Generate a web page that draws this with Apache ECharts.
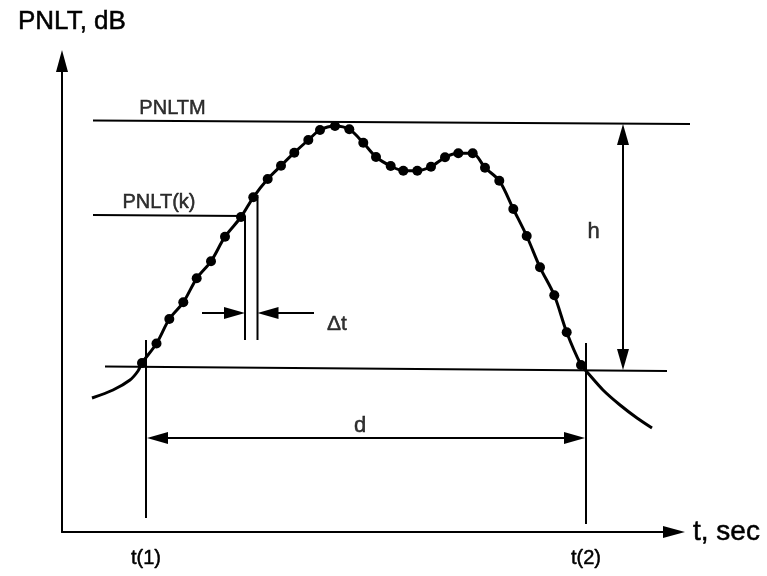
<!DOCTYPE html>
<html><head><meta charset="utf-8">
<script src="https://cdn.jsdelivr.net/npm/echarts@6/dist/echarts.min.js"></script>
<style>html,body{margin:0;padding:0;background:#fff}#c{width:767px;height:576px}</style>
</head><body><div id="c"></div>
<script>
// Sampled PNLT time history (dots)
const dotTime  = [8.0, 9.45, 10.73, 12.13, 13.47, 14.9, 16.3, 17.9, 19.13, 20.57, 21.9, 23.23, 24.63, 25.8, 27.3, 28.73, 30.13, 31.4, 32.87, 34.13, 35.53, 36.9, 38.3, 39.63, 41.07, 42.3, 43.73, 45.13, 46.47, 47.8, 49.23, 50.47, 51.9];
const dotLevel = [56.9, 58.85, 61.3, 62.97, 65.37, 67.07, 69.53, 71.5, 73.47, 75.3, 76.63, 77.93, 79.2, 80.2, 80.6, 80.27, 78.92, 77.5, 76.6, 76.13, 76.13, 76.53, 77.47, 77.87, 77.87, 76.43, 75.13, 72.3, 69.6, 66.47, 63.67, 59.97, 56.7];
// continuous curve tails outside the dotted part
const tailLeftTime  = [3.0, 5.1, 6.8, 7.6];
const tailLeftLevel = [53.4, 54.2, 55.2, 56.1];
const tailRightTime  = [52.5, 54.1, 55.8, 57.5, 59.0];
const tailRightLevel = [56.0, 54.2, 52.7, 51.4, 50.4];
// construction lines: [t1, L1, t2, L2, headAtStart, headAtEnd]
const guideLines = [
  [3.1, 81.15, 62.8, 80.8, 0, 0],   // PNLTM
  [3.1, 71.7, 18.3, 71.6, 0, 0],    // PNLT(k)
  [4.3, 56.55, 60.5, 56.1, 0, 0],   // PNLTM - h
  [8.4, 59.2, 8.4, 41.4, 0, 0],     // t(1)
  [52.4, 58.9, 52.4, 40.8, 0, 0],   // t(2)
  [18.3, 71.6, 18.3, 59.2, 0, 0],   // dt left
  [19.55, 73.7, 19.55, 59.2, 0, 0]  // dt right
];
const dimensionArrows = [
  [8.5, 49.4, 52.3, 49.4, 1, 1],    // d
  [56.1, 80.8, 56.1, 56.2, 1, 1],   // h
  [14.0, 61.9, 18.3, 61.9, 0, 1],   // dt ->
  [25.2, 61.9, 19.55, 61.9, 0, 1]   // <- dt
];
const tickValues = [8.4, 52.4];
const tickLabels = ['t(1)', 't(2)'];
const annoText  = ['PNLTM', 'PNLT(k)', 'h', 'd', 'Δt'];
const annoTime  = [11.05, 9.7, 53.15, 29.8, 27.5];
const annoLevel = [82.35, 73.0, 70.0, 50.6, 60.8];
const annoSize  = [20, 20, 22, 22, 21];

const FONT = 'Liberation Sans, Arial, sans-serif';
const curve = [];
tailLeftTime.forEach((t, i) => curve.push([t, tailLeftLevel[i]]));
dotTime.forEach((t, i) => curve.push([t, dotLevel[i]]));
tailRightTime.forEach((t, i) => curve.push([t, tailRightLevel[i]]));
const dots = dotTime.map((t, i) => [t, dotLevel[i]]);

function renderSeg(params, api) {
  const a = api.coord([api.value(0), api.value(1)]);
  const b = api.coord([api.value(2), api.value(3)]);
  const hs = api.value(4), he = api.value(5);
  const dx = b[0] - a[0], dy = b[1] - a[1];
  const len = Math.hypot(dx, dy) || 1;
  const ux = dx / len, uy = dy / len;
  const L = 21, W = 12;
  const children = [];
  function head(tip, vx, vy) {
    const bx = tip[0] - vx * L, by = tip[1] - vy * L;
    return { type: 'polygon', shape: { points: [[tip[0], tip[1]], [bx - vy * W / 2, by + vx * W / 2], [bx + vy * W / 2, by - vx * W / 2]] }, style: { fill: '#000' } };
  }
  let s = a, e = b;
  if (he) { children.push(head(b, ux, uy)); e = [b[0] - ux * 6, b[1] - uy * 6]; }
  if (hs) { children.push(head(a, -ux, -uy)); s = [a[0] + ux * 6, a[1] + uy * 6]; }
  children.push({ type: 'line', shape: { x1: s[0], y1: s[1], x2: e[0], y2: e[1] }, style: { stroke: '#000', lineWidth: 2 } });
  return { type: 'group', children };
}

const txt = (size) => ({ fontSize: size, color: '#000', fontFamily: FONT, textBorderColor: '#000', textBorderWidth: 0.5 });

const chart = echarts.init(document.getElementById('c'), null, { renderer: 'canvas' });
chart.setOption({
  backgroundColor: '#fff',
  animation: false,
  title: { text: 'PNLT, dB', left: 13, top: 4, textStyle: Object.assign(txt(26), { fontWeight: 'normal' }) },
  grid: { left: 62, top: 61, right: 93, bottom: 44, outerBoundsMode: 'none', containLabel: false },
  xAxis: {
    type: 'value', min: 0, max: 61.2,
    name: 't, sec', nameLocation: 'end', nameGap: 19,
    nameTextStyle: Object.assign(txt(28), { verticalAlign: 'middle' }),
    axisLine: { show: true, onZero: false, symbol: ['none', 'triangle'], symbolSize: [12, 22], lineStyle: { color: '#000', width: 2 } },
    axisTick: { show: false },
    splitLine: { show: false },
    axisLabel: Object.assign(txt(20), {
      show: true, customValues: tickValues, margin: 16,
      formatter: v => { let k = 0; tickValues.forEach((tv, i) => { if (Math.abs(tv - v) < Math.abs(tickValues[k] - v)) k = i; }); return tickLabels[k]; }
    })
  },
  yAxis: {
    type: 'value', min: 40, max: 87.1,
    axisLine: { show: true, onZero: false, symbol: ['none', 'triangle'], symbolSize: [12, 22], lineStyle: { color: '#000', width: 2 } },
    axisTick: { show: false }, axisLabel: { show: false }, splitLine: { show: false }
  },
  series: [
    { type: 'custom', renderItem: renderSeg, data: guideLines, clip: false, silent: true, z: 2 },
    { type: 'custom', renderItem: renderSeg, data: dimensionArrows, clip: false, silent: true, z: 2 },
    { type: 'line', data: curve, smooth: 0.3, symbol: 'none', clip: false, lineStyle: { color: '#000', width: 3 }, z: 3 },
    { type: 'scatter', data: dots, symbol: 'circle', symbolSize: 10, itemStyle: { color: '#000', opacity: 1 }, z: 4 },
    { type: 'scatter', symbolSize: 1, itemStyle: { color: 'rgba(0,0,0,0)' }, z: 5,
      data: annoText.map((t, i) => ({ value: [annoTime[i], annoLevel[i]],
        label: Object.assign(txt(annoSize[i]), { show: true, position: 'inside', formatter: t }) })) }
  ]
});
</script></body></html>
